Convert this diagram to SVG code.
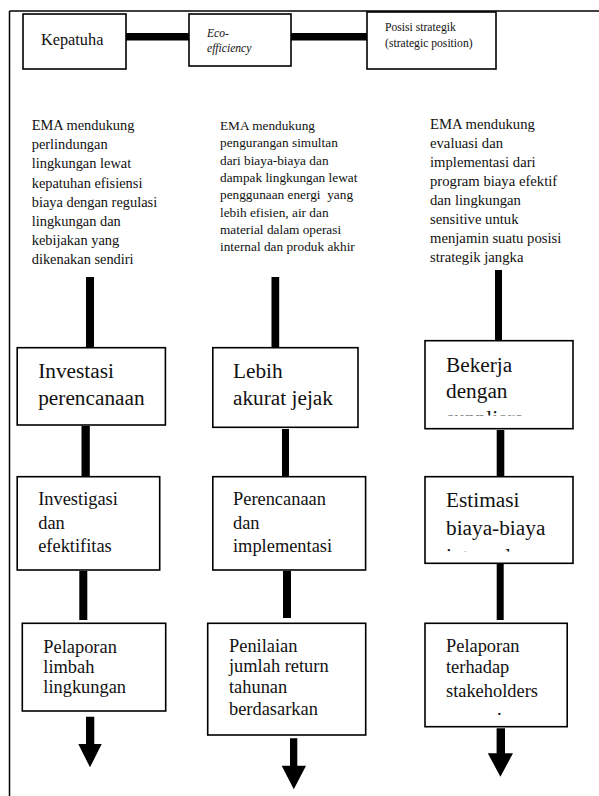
<svg xmlns="http://www.w3.org/2000/svg" width="599" height="796" viewBox="0 0 599 796">
<style>
.frame{stroke:#000;stroke-width:1.5;fill:none}
.box{fill:#fff;stroke:#000;stroke-width:1.6}
.bar{fill:#000}
.t{font-family:"Liberation Serif","Times New Roman",serif;fill:#111}
.d1{font-size:14.4px}
.d2{font-size:13.3px}
.d3{font-size:14.7px}
.big{font-size:21.3px}
.mid{font-size:18.4px}
</style>
<defs>
<clipPath id="clipDesc"><rect x="0" y="100" width="599" height="167"/></clipPath>
<clipPath id="clipBekerja"><rect x="425" y="340" width="148" height="75.5"/></clipPath>
<clipPath id="clipEstimasi"><rect x="425" y="476" width="148" height="75.5"/></clipPath>
</defs>
<rect width="599" height="796" fill="#fff"/>
<g id="frame">
<line class="frame" x1="9.5" y1="11" x2="599" y2="11"/>
<line class="frame" x1="9.5" y1="11" x2="9.5" y2="796"/>
</g>
<g id="connectors">
<rect class="bar" x="126" y="33" width="63" height="7.5"/>
<rect class="bar" x="291" y="33" width="76" height="7.5"/>
<rect class="bar" x="86" y="277" width="8" height="71"/>
<rect class="bar" x="271.5" y="277" width="7.7" height="71"/>
<rect class="bar" x="495" y="270" width="7" height="71"/>
<rect class="bar" x="81.5" y="426" width="8.3" height="50.7"/>
<rect class="bar" x="282" y="429" width="7" height="47.7"/>
<rect class="bar" x="496.7" y="430" width="7.6" height="46.7"/>
<rect class="bar" x="79.3" y="571" width="8" height="49"/>
<rect class="bar" x="283" y="571" width="8" height="47"/>
<rect class="bar" x="496.7" y="564" width="7" height="56"/>
<polygon class="bar" points="86,716.7 94.3,716.7 94.3,744 101.7,744 90,767.3 78.3,744 86,744"/>
<polygon class="bar" points="290,738.3 297.3,738.3 297.3,765.7 306,765.7 293.8,789.3 281.7,765.7 290,765.7"/>
<polygon class="bar" points="496.6,728.3 505,728.3 505,753.3 513,753.3 500.4,776.7 487.8,753.3 496.6,753.3"/>
</g>
<g id="node-kepatuhan">
<rect class="box" x="23" y="14" width="103" height="55"/>
<text class="t" x="41" y="45" font-size="16.3">Kepatuha</text>
</g>
<g id="node-eco">
<rect class="box" x="189" y="14" width="102" height="52"/>
<text class="t" x="207" y="37" font-size="11.6" font-style="italic">Eco-</text>
<text class="t" x="207" y="52" font-size="11.6" font-style="italic">efficiency</text>
</g>
<g id="node-posisi">
<rect class="box" x="367" y="12" width="129" height="57"/>
<text class="t" x="385" y="31" font-size="11.65">Posisi strategik</text>
<text class="t" x="385" y="47" font-size="11.65">(strategic position)</text>
</g>
<g id="desc-1" clip-path="url(#clipDesc)">
<text class="t d1" x="31.7" y="130">EMA mendukung</text>
<text class="t d1" x="31.7" y="149.2">perlindungan</text>
<text class="t d1" x="31.7" y="168.4">lingkungan lewat</text>
<text class="t d1" x="31.7" y="187.6">kepatuhan efisiensi</text>
<text class="t d1" x="31.7" y="206.8">biaya dengan regulasi</text>
<text class="t d1" x="31.7" y="226">lingkungan dan</text>
<text class="t d1" x="31.7" y="245.2">kebijakan yang</text>
<text class="t d1" x="31.7" y="264.4">dikenakan sendiri</text>
</g>
<g id="desc-2" clip-path="url(#clipDesc)">
<text class="t d2" x="220" y="130">EMA mendukung</text>
<text class="t d2" x="220" y="147.3">pengurangan simultan</text>
<text class="t d2" x="220" y="164.6">dari biaya-biaya dan</text>
<text class="t d2" x="220" y="181.9">dampak lingkungan lewat</text>
<text class="t d2" x="220" y="199.2" xml:space="preserve">penggunaan energi  yang</text>
<text class="t d2" x="220" y="216.5">lebih efisien, air dan</text>
<text class="t d2" x="220" y="233.8">material dalam operasi</text>
<text class="t d2" x="220" y="251.1">internal dan produk akhir</text>
</g>
<g id="desc-3" clip-path="url(#clipDesc)">
<text class="t d3" x="430" y="129.3">EMA mendukung</text>
<text class="t d3" x="430" y="148.3">evaluasi dan</text>
<text class="t d3" x="430" y="167.3">implementasi dari</text>
<text class="t d3" x="430" y="186.3">program biaya efektif</text>
<text class="t d3" x="430" y="205.3">dan lingkungan</text>
<text class="t d3" x="430" y="224.3">sensitive untuk</text>
<text class="t d3" x="430" y="243.3">menjamin suatu posisi</text>
<text class="t d3" x="430" y="262.3">strategik jangka</text>
</g>
<g id="node-investasi">
<rect class="box" x="17.2" y="347.7" width="148.2" height="77.3"/>
<text class="t big" x="38.2" y="378">Investasi</text>
<text class="t big" x="38.2" y="405">perencanaan</text>
</g>
<g id="node-lebih">
<rect class="box" x="212.8" y="347.7" width="145.2" height="79.6"/>
<text class="t big" x="233" y="378">Lebih</text>
<text class="t big" x="233" y="405">akurat jejak</text>
</g>
<g id="node-bekerja">
<rect class="box" x="425" y="340.7" width="148" height="88"/>
<g clip-path="url(#clipBekerja)">
<text class="t big" x="446" y="371.7">Bekerja</text>
<text class="t big" x="446" y="398.3">dengan</text>
<text class="t big" x="446" y="425">suppliers</text>
</g>
</g>
<g id="node-investigasi">
<rect class="box" x="17.2" y="476.7" width="142.5" height="93.3"/>
<text class="t mid" x="38.2" y="505">Investigasi</text>
<text class="t mid" x="38.2" y="528.5">dan</text>
<text class="t mid" x="38.2" y="552">efektifitas</text>
</g>
<g id="node-perencanaan">
<rect class="box" x="212.8" y="476.7" width="152.8" height="93.3"/>
<text class="t mid" x="233" y="505">Perencanaan</text>
<text class="t mid" x="233" y="528.5">dan</text>
<text class="t mid" x="233" y="552">implementasi</text>
</g>
<g id="node-estimasi">
<rect class="box" x="425" y="476.7" width="148" height="86.6"/>
<g clip-path="url(#clipEstimasi)">
<text class="t big" x="446" y="506.7">Estimasi</text>
<text class="t big" x="446" y="535">biaya-biaya</text>
<text class="t big" x="446" y="563.3">internal</text>
</g>
</g>
<g id="node-pelaporan-limbah">
<rect class="box" x="22.3" y="623.3" width="143.4" height="87.7"/>
<text class="t mid" x="43.3" y="652.5">Pelaporan</text>
<text class="t mid" x="43.3" y="672.7">limbah</text>
<text class="t mid" x="43.3" y="693.3">lingkungan</text>
</g>
<g id="node-penilaian">
<rect class="box" x="207.7" y="623.3" width="158" height="111.7"/>
<text class="t mid" x="229" y="651.7">Penilaian</text>
<text class="t mid" x="229" y="671.7">jumlah return</text>
<text class="t mid" x="229" y="693.3">tahunan</text>
<text class="t mid" x="229" y="715">berdasarkan</text>
</g>
<g id="node-pelaporan-stakeholders">
<rect class="box" x="425" y="623.3" width="142.2" height="103.4"/>
<text class="t mid" x="446" y="651.7">Pelaporan</text>
<text class="t mid" x="446" y="672.7">terhadap</text>
<text class="t mid" x="446" y="696.7">stakeholders</text>
<text class="t mid" x="497" y="715">.</text>
</g>
</svg>
